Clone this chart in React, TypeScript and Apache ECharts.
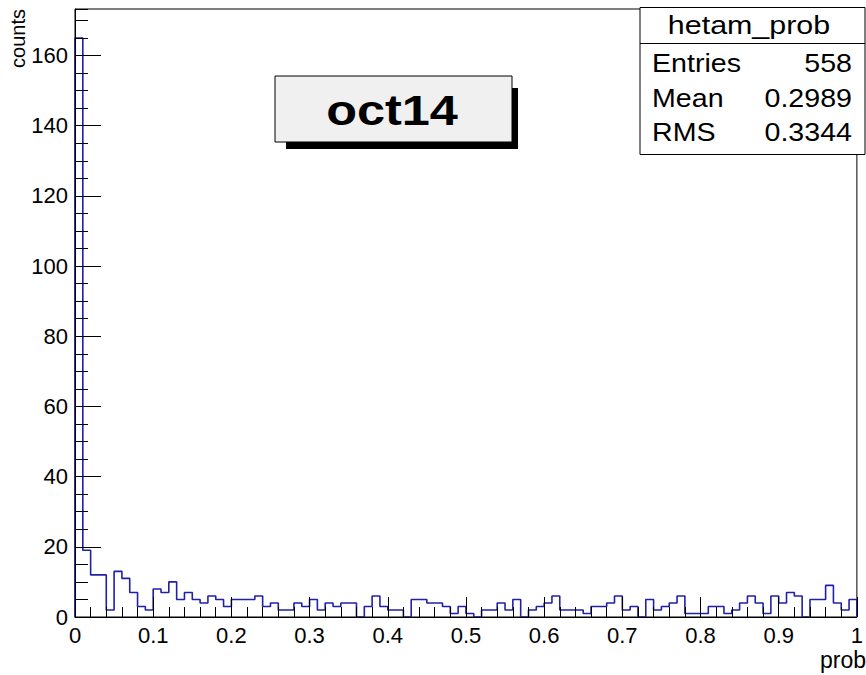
import React, { useEffect, useRef } from "react";
import * as echarts from "echarts";

// ---- data ----
const binLow = 0;
const binWidth = 0.01;
const counts = [
  165, 19, 12, 12, 2, 13, 11, 7, 3, 2,
  8, 7, 10, 5, 7, 5, 4, 6, 5, 3,
  5, 5, 5, 6, 3, 4, 2, 2, 4, 3,
  5, 2, 4, 3, 4, 4, 0, 3, 6, 3,
  2, 2, 0, 5, 5, 4, 4, 3, 1, 3,
  1, 0, 2, 2, 4, 2, 5, 0, 2, 3,
  4, 6, 2, 2, 2, 1, 3, 3, 4, 6,
  2, 3, 0, 5, 2, 3, 4, 6, 1, 1,
  1, 3, 3, 1, 2, 4, 6, 4, 1, 6,
  4, 7, 6, 0, 5, 5, 9, 4, 2, 5,
];
const xTickLabels = ["0", "0.1", "0.2", "0.3", "0.4", "0.5", "0.6", "0.7", "0.8", "0.9", "1"];
const yTickLabels = ["0", "20", "40", "60", "80", "100", "120", "140", "160"];
const yMax = 173.25;
const histName = "hetam_prob";
const statNames = ["Entries", "Mean", "RMS"];
const statValues = ["558", "0.2989", "0.3344"];
const titleText = "oct14";
const xTitle = "prob";
const yTitle = "counts";

const FONT = "'Liberation Sans', Arial, Helvetica, sans-serif";

export default function App() {
  const ref = useRef<HTMLDivElement>(null);
  useEffect(() => {
    if (!ref.current) return;
    const chart = echarts.init(ref.current, undefined, { renderer: "svg" });

    const data: number[][] = [[binLow, 0]];
    counts.forEach((c, i) => data.push([binLow + i * binWidth, c]));
    const xEnd = binLow + counts.length * binWidth;
    data.push([xEnd, counts[counts.length - 1]]);
    data.push([xEnd, 0]);

    const txt = (x: number, y: number, text: string, size: number, align: string, extra: any = {}) => {
      const { bold, ...rest } = extra;
      return {
        type: "text",
        x,
        y,
        z: 20,
        ...rest,
        style: {
          text,
          fill: "#000",
          fontSize: size,
          fontFamily: FONT,
          fontWeight: bold ? "bold" : "normal",
          align,
          textAlign: align,
          verticalAlign: "middle",
          textVerticalAlign: "middle",
        },
      };
    };

    const statRowsY = [63, 98, 132];
    const sx = 1.1;

    chart.setOption({
      animation: false,
      backgroundColor: "#fff",
      grid: {
        left: 75,
        right: 1,
        top: 9,
        bottom: 58,
        show: true,
        borderColor: "#000",
        borderWidth: 1,
        backgroundColor: "transparent",
      },
      xAxis: [
        {
          type: "value",
          min: 0,
          max: 1,
          interval: 0.1,
          position: "bottom",
          z: 3,
          axisLine: { show: true, onZero: false, lineStyle: { color: "#000", width: 1 } },
          axisTick: { show: true, inside: true, length: 20, lineStyle: { color: "#000", width: 1 } },
          minorTick: { show: true, splitNumber: 5, length: 10, lineStyle: { color: "#000", width: 1 } },
          splitLine: { show: false },
          minorSplitLine: { show: false },
          axisLabel: {
            show: true,
            margin: 7,
            color: "#000",
            fontSize: 22,
            fontFamily: FONT,
            showMinLabel: true,
            showMaxLabel: true,
            formatter: (v: number) => xTickLabels[Math.round(v * 10)] ?? "",
          },
        },
      ],
      yAxis: [
        {
          type: "value",
          min: 0,
          max: yMax,
          interval: 20,
          position: "left",
          z: 3,
          axisLine: { show: true, onZero: false, lineStyle: { color: "#000", width: 1 } },
          axisTick: { show: true, inside: true, length: 26, lineStyle: { color: "#000", width: 1 } },
          splitLine: { show: false },
          axisLabel: {
            show: true,
            margin: 7,
            color: "#000",
            fontSize: 22,
            fontFamily: FONT,
            showMaxLabel: false,
            formatter: (v: number) => (yTickLabels.includes(String(v)) ? String(v) : ""),
          },
        },
        {
          type: "value",
          min: 0,
          max: yMax,
          interval: 5,
          position: "left",
          offset: 0,
          z: 3,
          axisLine: { show: false },
          axisTick: { show: true, inside: true, length: 13, lineStyle: { color: "#000", width: 1 } },
          splitLine: { show: false },
          axisLabel: { show: false },
        },
      ],
      series: [
        {
          type: "line",
          step: "end",
          data,
          xAxisIndex: 0,
          yAxisIndex: 0,
          symbol: "none",
          z: 2,
          lineStyle: { color: "#2020aa", width: 1.6 },
        },
      ],
      graphic: [
        // stats box
        {
          type: "rect",
          z: 10,
          shape: { x: 640, y: 7.5, width: 225, height: 147 },
          style: { fill: "#fff", stroke: "#000", lineWidth: 1 },
        },
        {
          type: "line",
          z: 11,
          shape: { x1: 640, y1: 43.5, x2: 865, y2: 43.5 },
          style: { stroke: "#000", lineWidth: 1 },
        },
        txt(749, 25, histName, 26, "center", { scaleX: 1.17 }),
        ...statNames.map((n, i) => txt(652, statRowsY[i], n, 26, "left", { scaleX: sx })),
        ...statValues.map((v, i) => txt(852, statRowsY[i], v, 26, "right", { scaleX: sx })),
        // title pave with shadow
        {
          type: "rect",
          z: 10,
          shape: { x: 286, y: 88, width: 232, height: 61 },
          style: { fill: "#000" },
        },
        {
          type: "rect",
          z: 11,
          shape: { x: 275, y: 76, width: 237, height: 66 },
          style: { fill: "#f0f0f0", stroke: "#000", lineWidth: 1 },
        },
        txt(392, 111, titleText, 42, "center", { bold: true, scaleX: 1.2 }),
        // axis titles
        txt(18, 9, yTitle, 20, "right", { rotation: Math.PI / 2 }),
        txt(866, 660, xTitle, 23, "right"),
      ],
    });
    return () => chart.dispose();
  }, []);
  return (
    <div
      ref={ref}
      style={{ position: "fixed", left: 0, top: 0, width: 866, height: 675, background: "#fff" }}
    />
  );
}
